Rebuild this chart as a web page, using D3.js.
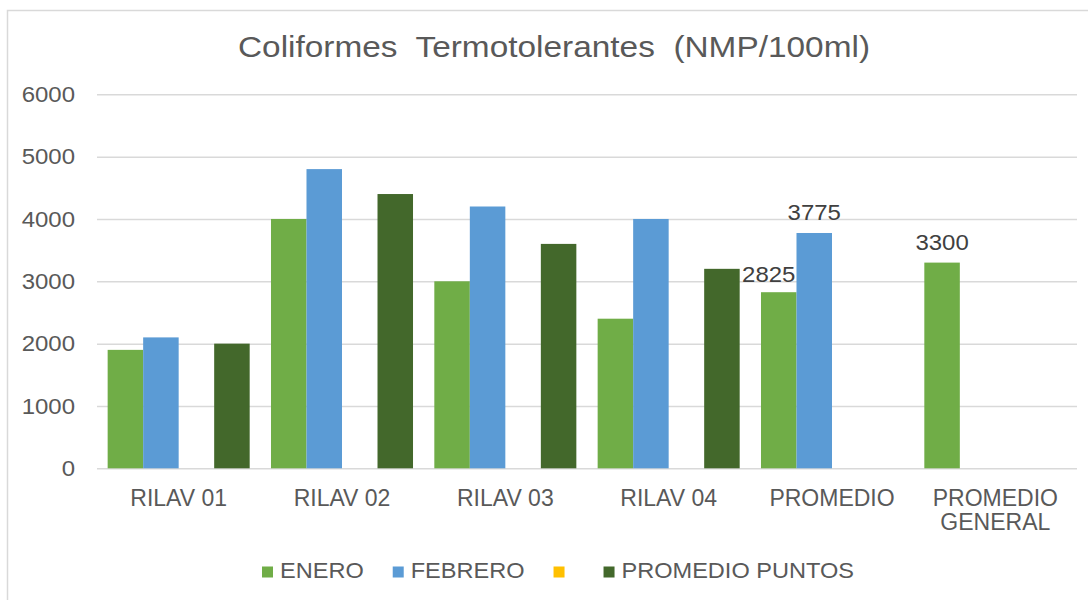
<!DOCTYPE html>
<html>
<head>
<meta charset="utf-8">
<script src="https://cdn.jsdelivr.net/npm/d3@7"></script>
<style>
  body { margin: 0; background: #fff; }
  text { font-family: "Liberation Sans", Arial, sans-serif; fill: #595959; }
</style>
</head>
<body>
<div id="chart"></div>
<script>
// chart data
var categories = ["RILAV 01", "RILAV 02", "RILAV 03", "RILAV 04", "PROMEDIO", "PROMEDIO GENERAL"];
var seriesNames = ["ENERO", "FEBRERO", "", "PROMEDIO PUNTOS"];
var seriesColors = ["#70AD47", "#5B9BD5", "#FFC000", "#43682B"];
var enero = [1900, 4000, 3000, 2400, 2825, 3300];
var febrero = [2100, 4800, 4200, 4000, 3775, null];
var serie3 = [null, null, null, null, null, null];
var promedioPuntos = [2000, 4400, 3600, 3200, null, null];
var yTicks = [0, 1000, 2000, 3000, 4000, 5000, 6000];
// which points show a data label: [category index, series index]
var labeled = [[4, 0], [4, 1], [5, 0]];

var allSeries = [enero, febrero, serie3, promedioPuntos];
var W = 1088, H = 600;

var svg = d3.select("#chart").append("svg")
    .attr("width", W).attr("height", H);

// chart frame
svg.append("rect")
    .attr("x", 7.5).attr("y", 10.5)
    .attr("width", 1095).attr("height", 600)
    .attr("fill", "#fff").attr("stroke", "#d9d9d9").attr("stroke-width", 1.5);

// reference text is a bit wider than Liberation Sans
function widen(k) {
    return function(sel) {
        sel.each(function() {
            var len = this.getComputedTextLength();
            if (len > 0) d3.select(this).attr("textLength", len * k).attr("lengthAdjust", "spacingAndGlyphs");
        });
    };
}

var x0 = d3.scaleBand().domain(d3.range(categories.length)).range([97, 1077]).paddingInner(0).paddingOuter(0);
var x1 = d3.scaleBand().domain(d3.range(seriesNames.length)).range([0, x0.bandwidth()]).paddingInner(0).paddingOuter(0.3);
var y = d3.scaleLinear().domain([0, 6000]).range([468.3, 94.3]);

// title
svg.append("text")
    .attr("x", 554).attr("y", 57)
    .attr("text-anchor", "middle")
    .attr("textLength", 632).attr("lengthAdjust", "spacingAndGlyphs")
    .style("font-size", "30px")
    .style("white-space", "pre")
    .text("Coliformes  Termotolerantes  (NMP/100ml)");

// gridlines
var yAxis = d3.axisLeft(y).tickValues(yTicks).tickSize(-(1077 - 97)).tickFormat(d3.format("d"));
var gy = svg.append("g").attr("transform", "translate(97,0)").call(yAxis);
gy.select(".domain").remove();
gy.selectAll(".tick line").attr("stroke", "#d9d9d9").attr("stroke-width", 1.5);
gy.selectAll(".tick text")
    .attr("x", -22).attr("dy", "0.33em")
    .attr("fill", "#595959")
    .style("font-size", "22px")
    .style("font-family", "Liberation Sans, Arial, sans-serif")
    .call(widen(1.09));

// bars
allSeries.forEach(function(vals, s) {
    svg.append("g").selectAll("rect")
        .data(vals.map(function(v, i) { return {i: i, v: v}; }).filter(function(d) { return d.v != null; }))
        .enter().append("rect")
        .attr("x", function(d) { return x0(d.i) + x1(s); })
        .attr("y", function(d) { return y(d.v); })
        .attr("width", x1.bandwidth())
        .attr("height", function(d) { return y(0) - y(d.v); })
        .attr("fill", seriesColors[s]);
});

// data labels
svg.append("g").selectAll("text")
    .data(labeled)
    .enter().append("text")
    .attr("x", function(d) { return x0(d[0]) + x1(d[1]) + x1.bandwidth() / 2 + (d[0] == 4 && d[1] == 0 ? -10 : 0); })
    .attr("y", function(d) { return y(allSeries[d[1]][d[0]]) - (d[0] == 4 && d[1] == 0 ? 10 : 13); })
    .attr("text-anchor", "middle")
    .style("font-size", "22px")
    .style("fill", "#404040")
    .text(function(d) { return allSeries[d[1]][d[0]]; })
    .call(widen(1.09));

// x axis category labels (wrap long names)
var xl = svg.append("g").selectAll("text")
    .data(categories)
    .enter().append("text")
    .attr("text-anchor", "middle")
    .style("font-size", "23px");
xl.each(function(c, i) {
    var t = d3.select(this);
    var words = c.length > 10 ? c.split(" ") : [c];
    words.forEach(function(w, k) {
        t.append("tspan")
            .attr("x", x0(i) + x0.bandwidth() / 2)
            .attr("y", 506 + k * 24)
            .text(w);
    });
});

// legend
var lg = svg.append("g");
var lx = 262;
seriesNames.forEach(function(name, s) {
    lg.append("rect")
        .attr("x", lx).attr("y", 566.5)
        .attr("width", 11).attr("height", 11)
        .attr("fill", seriesColors[s]);
    var t = lg.append("text")
        .attr("x", lx + 18).attr("y", 578)
        .style("font-size", "22px")
        .text(name)
        .call(widen(1.07));
    var tw = name ? +t.attr("textLength") : 3;
    lx += 18 + tw + 29;
});
</script>
</body>
</html>
